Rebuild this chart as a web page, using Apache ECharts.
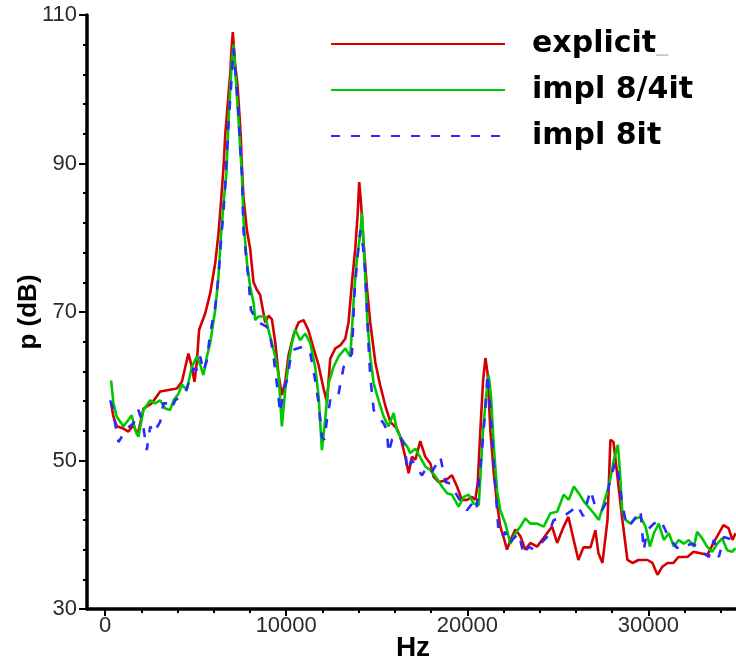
<!DOCTYPE html>
<html>
<head>
<meta charset="utf-8">
<script src="https://cdn.jsdelivr.net/npm/echarts@6/dist/echarts.min.js"></script>
<style>
  html, body { margin: 0; padding: 0; background: #fff; }
  #chart { width: 736px; height: 663px; }
</style>
</head>
<body>
<div id="chart"></div>
<script>
// Spectrum samples: [frequency in Hz, sound pressure level in dB]
const explicitPts = [
  [330,57.7],[460,55.9],[645,54.6],[1010,54.3],[1290,53.9],[1570,54.8],[1790,53.4],[2120,57.0],
  [2580,57.7],[3040,59.3],[3500,59.5],[3960,59.7],[4240,60.6],[4600,64.4],[4790,62.6],[4935,60.6],
  [5065,63.3],[5190,67.6],[5525,69.8],[5800,72.5],[6080,76.6],[6260,80.6],[6390,84.6],[6540,89.5],
  [6630,93.8],[6720,96.5],[6810,99.2],[6910,102.1],[6960,104.6],[7050,107.7],[7110,107.7],[7180,103.3],
  [7310,100.6],[7420,96.5],[7495,93.4],[7550,89.8],[7640,85.5],[7830,81.0],[8010,78.5],[8195,74.0],
  [8380,73.0],[8560,72.3],[8840,68.6],[9020,69.5],[9210,69.0],[9390,66.0],[9580,61.5],[9760,58.8],
  [9945,60.6],[10130,64.2],[10400,66.9],[10680,68.6],[10960,68.9],[11230,67.5],[11510,65.1],[11790,62.8],
  [12060,59.7],[12250,57.9],[12430,63.7],[12710,65.1],[12980,65.5],[13260,66.4],[13440,68.6],[13630,74.0],
  [13810,78.5],[13940,83.0],[14030,87.5],[14125,84.8],[14270,79.4],[14460,73.1],[14640,68.6],[14920,63.2],
  [15190,60.1],[15470,57.4],[15750,55.2],[16110,54.3],[16300,53.2],[16575,50.5],[16760,48.3],[16940,50.5],
  [17130,50.1],[17400,52.6],[17680,50.5],[17960,49.6],[18140,47.8],[18420,47.1],[18790,47.3],[19150,48.0],
  [19430,46.5],[19700,44.7],[19980,44.7],[20260,45.1],[20440,44.7],[20570,46.9],[20720,54.1],[20870,60.8],
  [21000,63.8],[21120,61.7],[21270,54.1],[21460,48.3],[21640,44.2],[21820,41.1],[22010,39.6],[22190,38.0],
  [22380,39.3],[22650,40.7],[22930,39.8],[23200,38.0],[23480,38.9],[23850,38.4],[24220,39.6],[24680,41.1],
  [24960,38.9],[25320,41.1],[25580,42.4],[26130,36.6],[26410,38.3],[26800,38.3],[27070,40.6],[27240,37.5],
  [27460,36.2],[27740,42.0],[27900,52.8],[28070,52.5],[28290,47.8],[28560,42.0],[28840,36.6],[29120,36.2],
  [29450,36.6],[29950,36.6],[30220,36.2],[30500,34.6],[30770,35.7],[31050,36.2],[31380,36.2],[31660,37.0],
  [32150,37.0],[32490,37.7],[32870,37.5],[33260,37.3],[33590,38.9],[33980,40.6],[34140,41.3],[34420,40.9],
  [34640,39.3],[34810,40.2]
];

const impl84Pts = [
  [330,60.8],[460,57.7],[645,55.9],[1010,54.6],[1290,55.5],[1470,56.1],[1660,54.1],[1840,53.2],
  [2120,56.8],[2490,58.1],[2760,57.7],[3040,58.1],[3320,57.0],[3590,56.8],[3780,58.1],[4050,59.0],
  [4240,60.2],[4510,59.5],[4790,62.6],[5065,64.0],[5250,62.9],[5430,61.5],[5620,64.0],[5800,65.8],
  [6080,70.3],[6260,74.8],[6390,80.1],[6540,84.6],[6700,88.8],[6810,95.6],[6910,100.1],[7000,103.7],
  [7090,106.0],[7180,102.8],[7275,99.2],[7370,95.6],[7460,92.0],[7550,88.5],[7640,82.4],[7830,76.6],
  [8010,73.4],[8200,71.2],[8290,68.9],[8470,69.4],[8560,69.2],[8840,69.4],[9020,67.6],[9210,65.8],
  [9390,64.0],[9580,61.5],[9760,54.6],[9945,59.5],[10130,63.1],[10310,65.8],[10500,67.6],[10770,66.2],
  [11050,67.1],[11330,65.8],[11600,62.6],[11790,58.6],[11970,51.4],[12150,55.5],[12340,60.4],[12610,62.6],
  [12890,64.0],[13260,65.1],[13540,64.0],[13760,73.0],[13900,77.0],[14090,80.6],[14180,83.3],[14270,79.3],
  [14365,74.8],[14490,68.5],[14640,64.0],[14830,60.4],[15100,58.1],[15380,55.9],[15650,54.6],[15930,56.4],
  [16110,54.1],[16390,52.8],[16670,51.9],[16850,51.0],[17130,51.6],[17680,49.2],[17960,48.7],[18320,47.6],
  [18600,46.5],[18880,45.6],[19150,45.4],[19520,43.8],[19800,45.1],[20070,45.4],[20350,44.2],[20630,44.0],
  [20870,54.1],[21050,59.0],[21180,61.5],[21310,58.6],[21460,51.9],[21640,46.0],[21820,43.3],[22100,41.5],
  [22380,38.8],[22650,40.2],[22930,41.1],[23200,42.2],[23480,41.5],[23850,41.5],[24220,41.1],[24590,42.9],
  [24960,43.1],[25320,45.4],[25600,44.7],[25880,46.5],[26150,45.6],[26430,44.5],[26980,42.9],[27260,42.0],
  [27530,44.2],[27810,46.5],[28090,50.1],[28310,52.1],[28420,48.7],[28550,43.3],[28730,42.0],[29010,41.5],
  [29280,42.2],[29560,42.4],[29840,41.1],[30080,38.4],[30300,40.2],[30570,41.5],[30850,39.3],[31130,40.2],
  [31400,38.4],[31680,39.3],[31950,38.8],[32230,39.3],[32510,38.4],[32690,40.4],[32970,39.5],[33240,38.4],
  [33520,37.7],[33800,38.8],[34070,39.5],[34350,37.9],[34620,37.7],[34810,38.2]
];

const impl8Pts = [
  [280,58.1],[460,56.8],[550,55.0],[740,52.5],[1200,54.3],[1570,55.0],[1840,56.8],[2080,55.0],
  [2300,51.4],[2490,54.6],[2670,53.7],[3040,55.2],[3220,57.7],[3500,57.7],[3680,57.0],[3870,58.1],
  [4140,58.6],[4420,59.0],[4600,60.4],[4880,62.4],[5065,62.2],[5250,64.0],[5430,62.0],[5620,63.5],
  [5800,67.1],[6080,70.7],[6260,74.8],[6390,79.3],[6540,83.7],[6650,87.8],[6720,91.1],[6810,95.2],
  [6910,98.8],[7000,101.9],[7090,105.5],[7240,101.0],[7370,96.5],[7460,92.0],[7550,88.9],[7640,81.0],
  [7920,74.3],[8050,70.3],[8200,69.6],[8560,68.5],[8930,68.0],[9120,66.7],[9300,64.0],[9480,60.4],
  [9670,56.4],[9850,59.5],[10040,60.8],[10220,63.5],[10370,64.9],[10870,65.3],[11140,65.1],[11330,64.4],
  [11600,60.8],[11790,57.7],[11970,53.2],[12100,52.8],[12250,55.5],[12430,58.1],[12710,58.1],[12890,59.0],
  [13170,62.6],[13630,64.4],[13760,72.1],[13900,76.6],[14090,81.0],[14240,78.8],[14365,75.2],[14550,65.3],
  [14640,61.3],[14830,56.8],[15100,55.9],[15380,55.0],[15560,54.1],[15650,51.0],[15840,52.8],[16110,53.5],
  [16390,52.8],[16580,51.4],[16670,48.7],[16940,50.1],[17130,49.2],[17500,48.0],[17770,49.2],[18050,48.5],
  [18320,49.6],[18510,50.5],[18790,47.1],[19060,46.9],[19380,45.5],[19700,44.2],[19980,43.3],[20260,44.2],
  [20500,43.3],[20870,53.2],[21000,57.2],[21120,61.7],[21270,56.8],[21460,49.6],[21640,43.3],[21730,40.2],
  [21920,39.7],[22100,40.4],[22280,38.8],[22560,39.5],[22840,40.2],[23110,37.3],[23390,38.4],[23670,38.0],
  [24030,38.8],[24400,39.7],[24770,42.0],[25140,42.2],[25780,43.3],[26060,44.0],[26400,42.5],[26800,46.0],
  [27100,43.5],[27440,43.3],[27630,44.2],[27810,46.5],[27990,48.3],[28180,49.8],[28310,48.7],[28420,46.5],
  [28550,44.2],[28730,42.0],[28910,41.1],[29190,42.0],[29560,43.3],[29740,37.9],[29930,40.6],[30300,41.5],
  [30660,42.0],[30940,40.6],[31130,39.7],[31400,38.8],[31590,38.2],[31860,38.8],[32140,38.6],[32410,38.8],
  [32690,38.4],[32970,37.7],[33330,37.0],[33610,39.3],[33890,37.0],[34160,39.7],[34720,39.3]
];

const seriesNames = ['explicit', 'impl 8/4it', 'impl 8it'];

// Axis ticks and labels
const xMajorTicks = [0, 10000, 20000, 30000];
const xMinorTicks = [2000, 4000, 6000, 8000, 12000, 14000, 16000, 18000, 22000, 24000, 26000, 28000, 32000, 34000];
const yMajorTicks = [30, 50, 70, 90, 110];
const yMinorTicks = [34, 38, 42, 46, 54, 58, 62, 66, 74, 78, 82, 86, 94, 98, 102, 106];

const X_MIN = -1000, X_MAX = 35000, Y_MIN = 30, Y_MAX = 110;
const gridBox = { left: 87, top: 15, right: -3, bottom: 54, containLabel: false, outerBoundsMode: 'none' };
const labelFont = { fontFamily: 'Liberation Sans', fontSize: 22, color: '#2a2a2a' };
const plainNumber = function (v) { return String(Math.round(v)); };
const axisStroke = { color: '#000000', width: 3.5, opacity: 1 };

const chart = echarts.init(document.getElementById('chart'), null, { renderer: 'canvas' });

chart.setOption({
  animation: false,
  backgroundColor: '#ffffff',
  grid: [Object.assign({}, gridBox), Object.assign({}, gridBox)],
  legend: {
    orient: 'vertical',
    left: 330,
    top: 29,
    padding: 0,
    itemWidth: 174,
    itemHeight: 30,
    itemGap: 16,
    selectedMode: false,
    data: seriesNames,
    itemStyle: { opacity: 0 },
    formatter: function (name) {
      return '{gap|}' + name + (name === 'explicit' ? '{u|_}' : '');
    },
    textStyle: {
      fontFamily: 'DejaVu Sans',
      fontWeight: 'bold',
      fontSize: 30,
      color: '#000',
      rich: {
        gap: { width: 22 },
        u: { color: '#c8c8c8', fontWeight: 'normal', fontSize: 24 }
      }
    }
  },
  xAxis: [
    {
      type: 'value', gridIndex: 0, min: X_MIN, max: X_MAX, position: 'bottom',
      name: 'Hz', nameLocation: 'middle', nameGap: 25, nameMoveOverlap: false,
      nameTextStyle: { fontFamily: 'Liberation Sans', fontWeight: 'bold', fontSize: 28, color: '#000' },
      axisLine: { show: true, onZero: false, lineStyle: axisStroke },
      axisTick: { show: true, customValues: xMajorTicks, length: 7, lineStyle: { color: '#000', width: 2 } },
      axisLabel: Object.assign({ customValues: xMajorTicks, margin: 6, formatter: plainNumber }, labelFont),
      splitLine: { show: false }
    },
    {
      type: 'value', gridIndex: 1, min: X_MIN, max: X_MAX, position: 'bottom',
      axisLine: { show: false, onZero: false },
      axisTick: { show: true, customValues: xMinorTicks, length: 4, lineStyle: { color: '#000', width: 2 } },
      axisLabel: { show: false },
      splitLine: { show: false }
    }
  ],
  yAxis: [
    {
      type: 'value', gridIndex: 0, min: Y_MIN, max: Y_MAX, position: 'left',
      name: 'p (dB)', nameLocation: 'middle', nameGap: 45, nameMoveOverlap: false,
      nameTextStyle: { fontFamily: 'Liberation Sans', fontWeight: 'bold', fontSize: 26, color: '#000' },
      axisLine: { show: true, onZero: false, lineStyle: axisStroke },
      axisTick: { show: true, customValues: yMajorTicks, length: 8, lineStyle: { color: '#000', width: 2 } },
      axisLabel: Object.assign({ customValues: yMajorTicks, margin: 10, formatter: plainNumber }, labelFont),
      splitLine: { show: false }
    },
    {
      type: 'value', gridIndex: 1, min: Y_MIN, max: Y_MAX, position: 'left',
      axisLine: { show: false, onZero: false },
      axisTick: { show: true, customValues: yMinorTicks, length: 4, lineStyle: { color: '#000', width: 2 } },
      axisLabel: { show: false },
      splitLine: { show: false }
    }
  ],
  series: [
    {
      name: seriesNames[0], type: 'line', xAxisIndex: 0, yAxisIndex: 0,
      data: explicitPts, symbol: 'none', showSymbol: false,
      lineStyle: { color: '#d40000', width: 2.6 }, itemStyle: { color: '#d40000' }
    },
    {
      name: seriesNames[1], type: 'line', xAxisIndex: 0, yAxisIndex: 0,
      data: impl84Pts, symbol: 'none', showSymbol: false,
      lineStyle: { color: '#00c800', width: 2.6 }, itemStyle: { color: '#00c800' }
    },
    {
      name: seriesNames[2], type: 'line', xAxisIndex: 0, yAxisIndex: 0,
      data: impl8Pts, symbol: 'none', showSymbol: false,
      lineStyle: { color: '#2a2aff', width: 2.6, type: [9, 11] }, itemStyle: { color: '#2a2aff' }
    }
  ]
});
</script>
</body>
</html>
